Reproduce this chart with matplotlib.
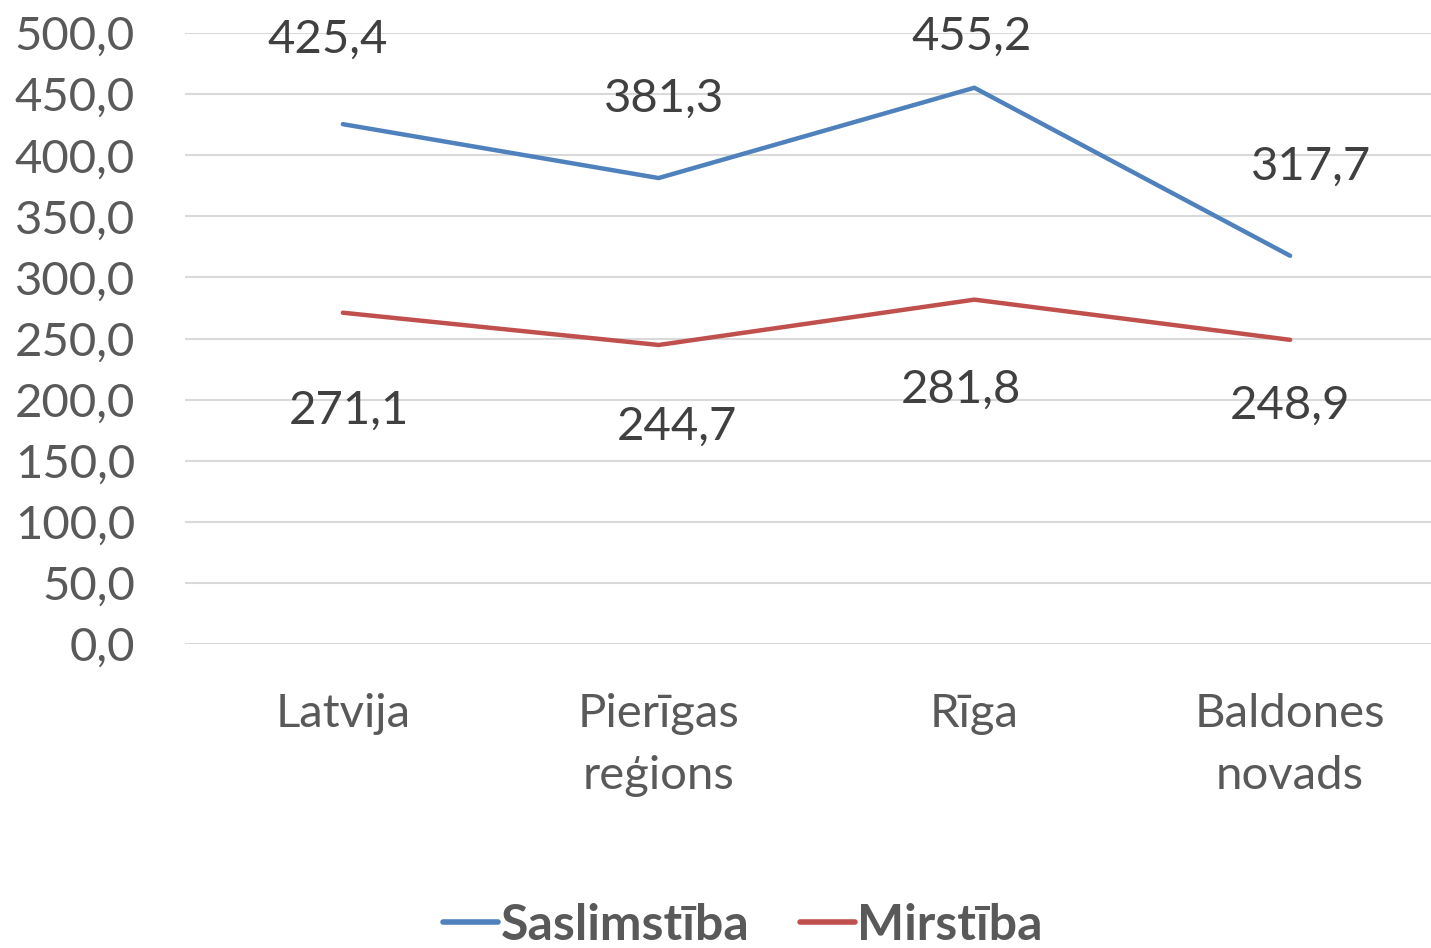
import matplotlib
matplotlib.use("Agg")
import matplotlib.pyplot as plt
from matplotlib.ticker import FuncFormatter, MultipleLocator

plt.rcParams['font.family'] = ['Lato', 'DejaVu Sans']

categories = ["Latvija", "Pierīgas\nreģions", "Rīga", "Baldones\nnovads"]
saslimstiba = [425.4, 381.3, 455.2, 317.7]
mirstiba = [271.1, 244.7, 281.8, 248.9]
series_names = ["Saslimstība", "Mirstība"]

# label offsets in pixels (dx, dy) relative to the point
blue_offsets = [(-15, 84), (5, 79), (-3, 51), (21, 89)]
red_offsets = [(6, -98), (18, -82), (-13, -90), (0, -66)]

W, H, DPI = 1431, 948, 100
FS = 34
fig = plt.figure(figsize=(W / DPI, H / DPI), dpi=DPI)
left = 185 / W
right = 1448 / W
bottom = 1 - 644 / H
top = 1 - 33 / H
ax = fig.add_axes([left, bottom, right - left, top - bottom])

blue = "#4F81BD"
red = "#C0504D"
x = list(range(len(categories)))
l1, = ax.plot(x, saslimstiba, color=blue, lw=3.2, solid_capstyle='round', label=series_names[0], clip_on=False)
l2, = ax.plot(x, mirstiba, color=red, lw=3.2, solid_capstyle='round', label=series_names[1], clip_on=False)

ax.set_xlim(-0.5, len(categories) - 0.5)
ax.set_ylim(0, 500)
ax.yaxis.set_major_locator(MultipleLocator(50))
ax.yaxis.set_major_formatter(FuncFormatter(lambda v, p: f"{v:.1f}".replace(".", ",")))
ax.grid(axis='y', color="#D9D9D9", lw=1.5)
ax.set_axisbelow(True)
for s in ax.spines.values():
    s.set_visible(False)
ax.tick_params(axis='both', length=0, labelsize=FS, labelcolor="#595959")
ax.tick_params(axis='y', pad=36)
ax.tick_params(axis='x', pad=35)
ax.set_xticks(x)
ax.set_xticklabels(categories, linespacing=1.6)

def fmt(v):
    return f"{v:.1f}".replace(".", ",")

for xi, v, (dx, dy) in zip(x, saslimstiba, blue_offsets):
    ax.annotate(fmt(v), (xi, v), xytext=(dx * 0.72, dy * 0.72), textcoords='offset points',
                ha='center', va='center', fontsize=FS, color="#404040")
for xi, v, (dx, dy) in zip(x, mirstiba, red_offsets):
    ax.annotate(fmt(v), (xi, v), xytext=(dx * 0.72, dy * 0.72), textcoords='offset points',
                ha='center', va='center', fontsize=FS, color="#404040")

leg = fig.legend(handles=[l1, l2], loc='center', bbox_to_anchor=(743 / W, 1 - 925 / H),
                 ncol=2, frameon=False, handlelength=1.1, handletextpad=0.05, columnspacing=1.0,
                 borderpad=0.1, prop={'size': 36, 'weight': 'bold'})
for t in leg.get_texts():
    t.set_color("#595959")
for h in leg.legend_handles:
    h.set_linewidth(4)

fig.savefig("out.png", dpi=DPI, facecolor="white")
